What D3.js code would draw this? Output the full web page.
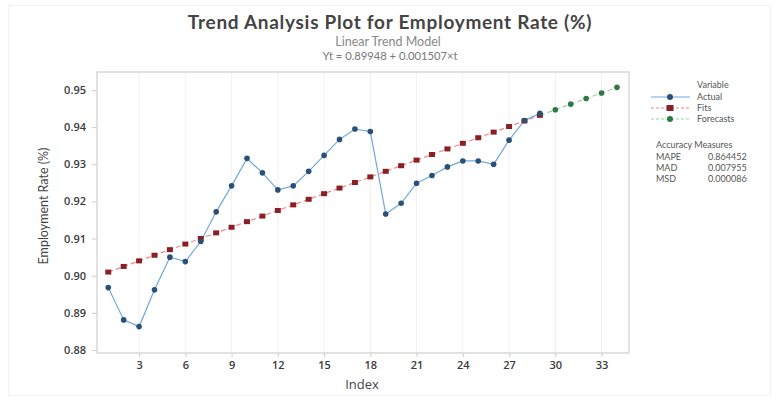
<!DOCTYPE html>
<html>
<head>
<meta charset="utf-8">
<script src="https://cdn.jsdelivr.net/npm/d3@7"></script>
<style>
  html, body { margin: 0; padding: 0; background: #fff; }
  svg { display: block; font-family: "Open Sans", "Noto Sans", sans-serif; }
</style>
</head>
<body>
<svg id="chart" width="780" height="401"></svg>
<script>
// Employment rate series (time index 1..29)
const actualIndex = d3.range(1, 30);
const actualValues = [
  0.8968, 0.8881, 0.8863, 0.8962, 0.9050, 0.9038, 0.9092, 0.9172, 0.9242, 0.9316,
  0.9277, 0.9231, 0.9242, 0.9281, 0.9324, 0.9367, 0.9395, 0.9388, 0.9166, 0.9195,
  0.9249, 0.9270, 0.9293, 0.9309, 0.9309, 0.9300, 0.9365, 0.9418, 0.9437
];
// Linear trend model coefficients
const trendIntercept = 0.89948;
const trendSlope = 0.001507;
const forecastIndex = [30, 31, 32, 33, 34];
const fitValues = actualIndex.map(t => trendIntercept + trendSlope * t);
const forecastValues = forecastIndex.map(t => trendIntercept + trendSlope * t);

const xTicks = [3, 6, 9, 12, 15, 18, 21, 24, 27, 30, 33];
const yTicks = [0.88, 0.89, 0.90, 0.91, 0.92, 0.93, 0.94, 0.95];

const legendNames = ["Actual", "Fits", "Forecasts"];
const accuracyNames = ["MAPE", "MAD", "MSD"];
const accuracyValues = ["0.864452", "0.007955", "0.000086"];

const svg = d3.select("#chart");

// faint outer frame
svg.append("rect").attr("x", 8.5).attr("y", 5.5).attr("width", 762).attr("height", 390)
  .attr("fill", "none").attr("stroke", "#f2f2f2");

const plot = { left: 97, right: 629, top: 72, bottom: 353 };
const x = d3.scaleLinear().domain([0.27, 34.78]).range([plot.left, plot.right]);
const y = d3.scaleLinear().domain([0.87919, 0.95485]).range([plot.bottom, plot.top]);

// vertical grid lines
svg.append("g").selectAll("line").data(xTicks).join("line")
  .attr("x1", d => x(d)).attr("x2", d => x(d))
  .attr("y1", plot.top).attr("y2", plot.bottom)
  .attr("stroke", "#f1f1f1").attr("stroke-width", 1);

// plot frame
svg.append("rect").attr("x", plot.left).attr("y", plot.top)
  .attr("width", plot.right - plot.left).attr("height", plot.bottom - plot.top)
  .attr("fill", "none").attr("stroke", "#d9d9d9").attr("stroke-width", 1.5);

// axes
const xAxis = svg.append("g").attr("transform", `translate(0,${plot.bottom})`)
  .call(d3.axisBottom(x).tickValues(xTicks).tickSize(4).tickPadding(4));
const yAxis = svg.append("g").attr("transform", `translate(${plot.left},0)`)
  .call(d3.axisLeft(y).tickValues(yTicks).tickFormat(d3.format(".2f")).tickSize(5).tickPadding(6));
[xAxis, yAxis].forEach(a => {
  a.select(".domain").remove();
  a.selectAll(".tick line").attr("stroke", "#cfcfcf");
  a.selectAll(".tick text").attr("fill", "#3a3a3a").style("font-size", "11px")
    .style("font-weight", "600").style("font-family", "'Open Sans', sans-serif");
});

// axis titles
svg.append("text").attr("x", 362).attr("y", 389).attr("text-anchor", "middle")
  .attr("fill", "#444").style("font-size", "13px").text("Index");
svg.append("text").attr("transform", "translate(48,206) rotate(-90)").attr("text-anchor", "middle")
  .attr("fill", "#444").style("font-size", "12.5px")
  .style("font-family", "Lato, sans-serif")
  .text("Employment Rate (%)");

// title block
const titleFont = "Lato, 'Open Sans', sans-serif";
svg.append("text").attr("x", 390).attr("y", 29).attr("text-anchor", "middle")
  .attr("fill", "#444").style("font-family", titleFont).style("font-size", "19px").style("font-weight", "700")
  .style("letter-spacing", "0.7px")
  .text("Trend Analysis Plot for Employment Rate (%)");
svg.append("text").attr("x", 388).attr("y", 46).attr("text-anchor", "middle")
  .attr("fill", "#888").style("font-family", titleFont).style("font-size", "12.5px").text("Linear Trend Model");
svg.append("text").attr("x", 390).attr("y", 60).attr("text-anchor", "middle")
  .attr("fill", "#777").style("font-family", titleFont).style("font-size", "11.2px").text("Yt = 0.89948 + 0.001507\u00d7t");

const line = d3.line().x(d => x(d[0])).y(d => y(d[1]));
const actualPts = actualIndex.map((t, i) => [t, actualValues[i]]);
const fitPts = actualIndex.map((t, i) => [t, fitValues[i]]);
const fcPts = [[29, fitValues[28]]].concat(forecastIndex.map((t, i) => [t, forecastValues[i]]));

// fits (dashed red)
svg.append("path").datum(fitPts).attr("d", line).attr("fill", "none")
  .attr("stroke", "#f08a8a").attr("stroke-width", 1.2).attr("stroke-dasharray", "5,3");
// forecasts (dashed green)
svg.append("path").datum(fcPts).attr("d", line).attr("fill", "none")
  .attr("stroke", "#8fd9a0").attr("stroke-width", 1.2).attr("stroke-dasharray", "5,3");
// actual (solid blue)
svg.append("path").datum(actualPts).attr("d", line).attr("fill", "none")
  .attr("stroke", "#6fa9dc").attr("stroke-width", 1.2);

// markers
svg.append("g").selectAll("rect").data(fitPts).join("rect")
  .attr("x", d => x(d[0]) - 3).attr("y", d => y(d[1]) - 2.5)
  .attr("width", 6).attr("height", 5).attr("fill", "#8a1f26");
svg.append("g").selectAll("circle").data(actualPts).join("circle")
  .attr("cx", d => x(d[0])).attr("cy", d => y(d[1])).attr("r", 2.8).attr("fill", "#2c4f78");
svg.append("g").selectAll("circle").data(forecastIndex.map((t, i) => [t, forecastValues[i]])).join("circle")
  .attr("cx", d => x(d[0])).attr("cy", d => y(d[1])).attr("r", 2.8).attr("fill", "#2f7a44");

// legend
const lg = svg.append("g").style("font-family", "Lato, 'Liberation Sans', sans-serif");
const lgFont = "9px";
lg.append("text").attr("x", 697).attr("y", 88).attr("fill", "#555").style("font-size", lgFont).text("Variable");
const legendStyle = [
  { stroke: "#6fa9dc", dash: null, marker: "circle", fill: "#2c4f78" },
  { stroke: "#f08a8a", dash: "3,2", marker: "rect", fill: "#8a1f26" },
  { stroke: "#8fd9a0", dash: "3,2", marker: "circle", fill: "#2f7a44" }
];
legendNames.forEach((name, i) => {
  const yy = 97 + i * 11;
  const s = legendStyle[i];
  lg.append("line").attr("x1", 651).attr("x2", 690).attr("y1", yy).attr("y2", yy)
    .attr("stroke", s.stroke).attr("stroke-width", 1.1).attr("stroke-dasharray", s.dash);
  if (s.marker === "circle") {
    lg.append("circle").attr("cx", 670).attr("cy", yy).attr("r", 3).attr("fill", s.fill);
  } else {
    lg.append("rect").attr("x", 666.5).attr("y", yy - 3).attr("width", 7).attr("height", 6).attr("fill", s.fill);
  }
  lg.append("text").attr("x", 697).attr("y", yy + 3).attr("fill", "#555")
    .style("font-size", lgFont).text(name);
});
lg.append("text").attr("x", 656).attr("y", 148).attr("fill", "#555").style("font-size", lgFont).text("Accuracy Measures");
accuracyNames.forEach((name, i) => {
  const yy = 160 + i * 11;
  lg.append("text").attr("x", 656).attr("y", yy).attr("fill", "#555").style("font-size", lgFont).text(name);
  lg.append("text").attr("x", 708).attr("y", yy).attr("fill", "#555").style("font-size", lgFont).text(accuracyValues[i]);
});
</script>
</body>
</html>
